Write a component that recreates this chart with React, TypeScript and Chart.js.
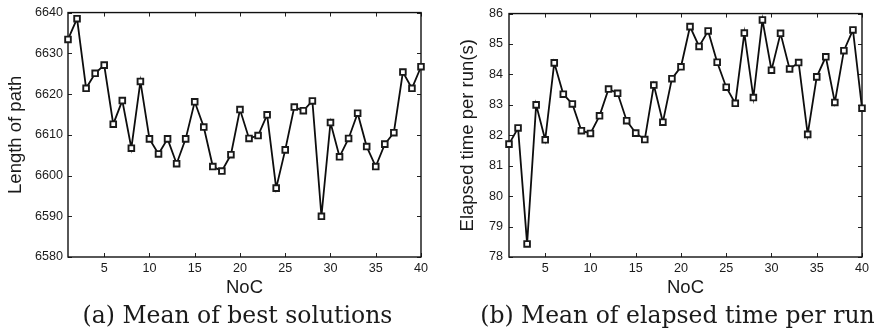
import { useEffect, useRef } from "react";
import { Chart, registerables } from "chart.js";

Chart.register(...registerables);

// ---- data ----
const noc = [1, 2, 3, 4, 5, 6, 7, 8, 9, 10, 11, 12, 13, 14, 15, 16, 17, 18, 19, 20,
  21, 22, 23, 24, 25, 26, 27, 28, 29, 30, 31, 32, 33, 34, 35, 36, 37, 38, 39, 40];

const pathLength = [6633.4, 6638.5, 6621.4, 6625.1, 6627.1, 6612.6, 6618.4, 6606.7, 6623.1, 6609.0,
  6605.3, 6609.0, 6602.9, 6609.0, 6618.1, 6611.9, 6602.2, 6601.1, 6605.1, 6616.2,
  6609.1, 6609.8, 6614.9, 6596.9, 6606.3, 6616.8, 6615.9, 6618.3, 6590.0, 6613.0,
  6604.6, 6609.1, 6615.3, 6607.1, 6602.2, 6607.7, 6610.5, 6625.4, 6621.4, 6626.7];

const elapsedTime = [81.71, 82.24, 78.43, 83.0, 81.85, 84.38, 83.35, 83.03, 82.15, 82.06,
  82.64, 83.52, 83.38, 82.48, 82.07, 81.86, 83.65, 82.43, 83.86, 84.25,
  85.57, 84.92, 85.43, 84.4, 83.58, 83.05, 85.36, 83.24, 85.79, 84.14,
  85.35, 84.18, 84.39, 82.03, 83.92, 84.58, 83.08, 84.78, 85.46, 82.89];

const xTicks = [5, 10, 15, 20, 25, 30, 35, 40];
const pathTicks = [6580, 6590, 6600, 6610, 6620, 6630, 6640];
const timeTicks = [78, 79, 80, 81, 82, 83, 84, 85, 86];

const xTitle = "NoC";
const pathTitle = "Length of path";
const timeTitle = "Elapsed time per run(s)";
const captionA = "(a) Mean of best solutions";
const captionB = "(b) Mean of elapsed time per run";

const SANS = "'Liberation Sans', Arial, Helvetica, sans-serif";
const TEXT = "#1a1a1a";

const boxPlugin = {
  id: "matlabBox",
  beforeDatasetsDraw(chart: any) {
    const { ctx, chartArea: a, scales } = chart;
    const tl = 4;
    ctx.save();
    ctx.strokeStyle = "#222";
    ctx.lineWidth = 1;
    ctx.beginPath();
    scales.x.ticks.forEach((t: any) => {
      const px = Math.round(scales.x.getPixelForValue(t.value)) + 0.5;
      ctx.moveTo(px, a.bottom);
      ctx.lineTo(px, a.bottom - tl);
      ctx.moveTo(px, a.top);
      ctx.lineTo(px, a.top + tl);
    });
    scales.y.ticks.forEach((t: any) => {
      const py = Math.round(scales.y.getPixelForValue(t.value)) + 0.5;
      ctx.moveTo(a.left, py);
      ctx.lineTo(a.left + tl, py);
      ctx.moveTo(a.right, py);
      ctx.lineTo(a.right - tl, py);
    });
    ctx.stroke();
    ctx.lineWidth = 1.4;
    ctx.strokeStyle = "#111";
    ctx.strokeRect(a.left, a.top, a.right - a.left, a.bottom - a.top);
    ctx.restore();
  },
};

type PanelProps = {
  values: number[];
  yTicks: number[];
  yTitle: string;
  yAxisWidth: number;
  padRight: number;
  width: number;
  titlePad: number;
  tickPad: number;
};

function Panel({ values, yTicks, yTitle, yAxisWidth, padRight, width, titlePad, tickPad }: PanelProps) {
  const ref = useRef<HTMLCanvasElement | null>(null);
  useEffect(() => {
    if (!ref.current) return;
    const chart = new Chart(ref.current, {
      type: "line",
      data: {
        datasets: [
          {
            data: noc.map((x, i) => ({ x, y: values[i] })),
            borderColor: "#0d0d0d",
            borderWidth: 1.8,
            pointStyle: "rect",
            pointRadius: 4,
            pointBorderWidth: 1.9,
            pointBorderColor: "#1a1a1a",
            pointBackgroundColor: "#ffffff",
            tension: 0,
            clip: false as any,
          },
        ],
      },
      options: {
        animation: false,
        responsive: false,
        events: [],
        layout: { padding: { top: 10, right: padRight, left: 0, bottom: 0 } },
        plugins: { legend: { display: false }, tooltip: { enabled: false } },
        scales: {
          x: {
            type: "linear",
            min: noc[0],
            max: noc[noc.length - 1],
            afterBuildTicks: (s: any) => {
              s.ticks = xTicks.map((v) => ({ value: v }));
            },
            afterFit: (s: any) => {
              s.height = 45;
            },
            grid: { display: true, drawOnChartArea: false, drawTicks: false },
            border: { display: false },
            ticks: {
              padding: 4,
              color: TEXT,
              font: { family: SANS, size: 12.6 },
              maxRotation: 0,
              autoSkip: false,
              callback: (v: any) => String(v),
            },
            title: {
              display: true,
              text: xTitle,
              color: TEXT,
              font: { family: SANS, size: 18.5 },
              padding: { top: 0, bottom: 3 },
            },
          },
          y: {
            type: "linear",
            min: yTicks[0],
            max: yTicks[yTicks.length - 1],
            afterBuildTicks: (s: any) => {
              s.ticks = yTicks.map((v) => ({ value: v }));
            },
            afterFit: (s: any) => {
              s.width = yAxisWidth;
            },
            grid: { display: true, drawOnChartArea: false, drawTicks: false },
            border: { display: false },
            ticks: {
              padding: tickPad,
              color: TEXT,
              font: { family: SANS, size: 12.6 },
              autoSkip: false,
              callback: (v: any) => String(v),
            },
            title: {
              display: true,
              text: yTitle,
              color: TEXT,
              font: { family: SANS, size: 18.5 },
              padding: { top: titlePad, bottom: 0 },
            },
          },
        },
      },
      plugins: [boxPlugin],
    });
    return () => chart.destroy();
  }, []);
  return <canvas ref={ref} width={width} height={302} style={{ display: "block", width, height: 302 }} />;
}

const captionStyle: any = {
  position: "absolute",
  top: 301,
  width: 420,
  textAlign: "center",
  whiteSpace: "nowrap",
  fontFamily: "'DejaVu Serif', serif",
  fontSize: 23.5,
  lineHeight: "28px",
  color: "#1a1a1a",
};

export default function App() {
  return (
    <div style={{ position: "absolute", left: 0, top: 0, width: 879, height: 334, background: "#fff", overflow: "hidden" }}>
      <div style={{ position: "absolute", left: 0, top: 0 }}>
        <Panel values={pathLength} yTicks={pathTicks} yTitle={pathTitle} yAxisWidth={68} padRight={19} width={440} titlePad={5} tickPad={5} />
      </div>
      <div style={{ position: "absolute", left: 440, top: 0 }}>
        <Panel values={elapsedTime} yTicks={timeTicks} yTitle={timeTitle} yAxisWidth={69} padRight={17} width={439} titlePad={17} tickPad={6} />
      </div>
      <div style={{ ...captionStyle, left: 237.5 - 210 }}>{captionA}</div>
      <div style={{ ...captionStyle, left: 677.5 - 210 }}>{captionB}</div>
    </div>
  );
}
